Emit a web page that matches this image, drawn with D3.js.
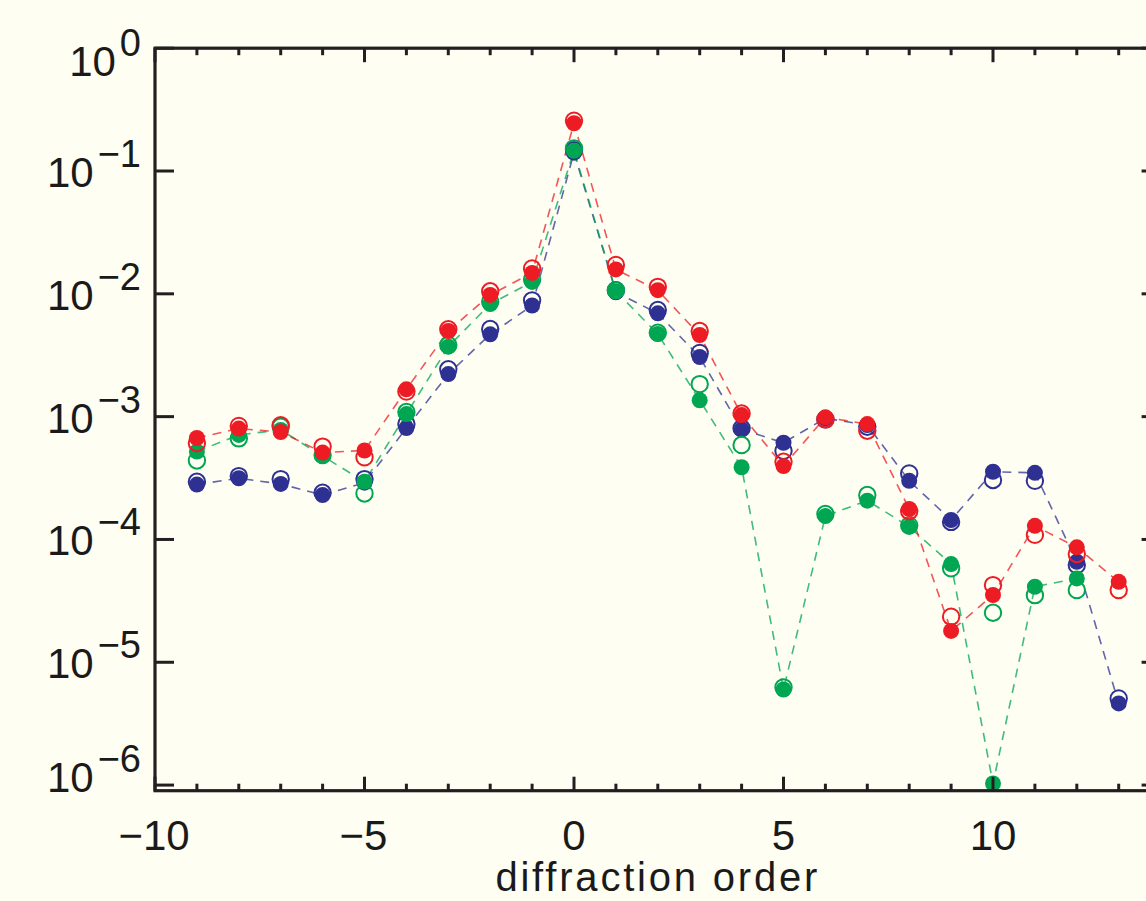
<!DOCTYPE html>
<html>
<head>
<meta charset="utf-8">
<script src="https://cdn.jsdelivr.net/npm/d3@7/dist/d3.min.js"></script>
<style>
  html, body { margin: 0; padding: 0; background: #fefef3; }
  svg { display: block; }
</style>
</head>
<body>
<svg id="chart" width="1146" height="901"></svg>
<script>
// Diffraction orders shown on the x axis
const orders = [-9,-8,-7,-6,-5,-4,-3,-2,-1,0,1,2,3,4,5,6,7,8,9,10,11,12,13];

// Relative intensity per order: filled markers (measured) and open markers (model)
const redFilled   = [6.7e-4,8.0e-4,7.5e-4,5.1e-4,5.3e-4,1.67e-3,4.98e-3,9.8e-3,1.48e-2,0.245,1.58e-2,1.07e-2,4.62e-3,1.03e-3,3.96e-4,9.87e-4,8.7e-4,1.77e-4,1.8e-5,3.53e-5,1.29e-4,8.63e-5,4.52e-5];
const redOpen     = [6.1e-4,8.4e-4,8.5e-4,5.7e-4,4.66e-4,1.6e-3,5.14e-3,1.05e-2,1.61e-2,0.257,1.72e-2,1.14e-2,4.98e-3,1.06e-3,4.29e-4,9.5e-4,7.68e-4,1.7e-4,2.35e-5,4.25e-5,1.09e-4,7.61e-5,3.87e-5];
const greenFilled = [5.2e-4,7.1e-4,7.8e-4,4.78e-4,2.95e-4,1.05e-3,3.71e-3,8.26e-3,1.25e-2,0.146,1.05e-2,4.71e-3,1.36e-3,3.87e-4,6.0e-6,1.55e-4,2.07e-4,1.27e-4,6.3e-5,1.03e-6,4.12e-5,4.82e-5,null];
const greenOpen   = [4.4e-4,6.65e-4,8.3e-4,4.87e-4,2.37e-4,1.09e-3,3.83e-3,8.63e-3,1.31e-2,0.153,1.07e-2,4.82e-3,1.84e-3,5.87e-4,6.25e-6,1.61e-4,2.3e-4,1.3e-4,5.82e-5,2.53e-5,3.52e-5,3.87e-5,null];
const blueFilled  = [2.8e-4,3.15e-4,2.83e-4,2.3e-4,2.9e-4,8.07e-4,2.22e-3,4.68e-3,8.03e-3,0.141,1.03e-2,6.94e-3,3.06e-3,7.88e-4,6.13e-4,9.7e-4,8.54e-4,3.0e-4,1.44e-4,3.56e-4,3.49e-4,6.58e-5,4.62e-6];
const blueOpen    = [2.95e-4,3.28e-4,3.1e-4,2.4e-4,3.1e-4,8.7e-4,2.43e-3,5.17e-3,8.85e-3,0.148,1.07e-2,7.38e-3,3.3e-3,8.03e-4,5.27e-4,9.5e-4,8.28e-4,3.45e-4,1.39e-4,3.05e-4,3.0e-4,6.19e-5,5.08e-6];

// Axis ticks
const yTickExps = [0,-1,-2,-3,-4,-5,-6];
const xMajorTicks = [-10,-5,0,5,10];
const xLabel = "diffraction order";

const series = [
  { color: "#2e3192", filled: blueFilled,  open: blueOpen },
  { color: "#00a651", filled: greenFilled, open: greenOpen },
  { color: "#ed1c24", filled: redFilled,   open: redOpen }
];

const svg = d3.select("#chart");
const W = 1146, H = 901;
const plotLeft = 155, plotTop = 48.2, plotRight = 1160.6, plotBottom = 790.7;
const ink = "#231f20";

svg.append("rect").attr("width", W).attr("height", H).attr("fill", "#fefef3");

const x = d3.scaleLinear().domain([-10, 14]).range([plotLeft, plotRight]);
const y = d3.scaleLog().domain([9e-7, 1]).range([plotBottom, plotTop]);

// Dashed connecting lines through the filled markers
const line = d3.line()
  .defined(d => d.v != null)
  .x(d => x(d.o))
  .y(d => y(d.v));

series.forEach(s => {
  const pts = orders.map((o, i) => ({ o, v: s.filled[i] }));
  svg.append("path")
    .attr("d", line(pts))
    .attr("fill", "none")
    .attr("stroke", s.color)
    .attr("stroke-opacity", 0.75)
    .attr("stroke-width", 1.6)
    .attr("stroke-dasharray", "9,7");
});

// Markers: open rings first, filled dots above them
series.forEach(s => {
  const g = svg.append("g");
  g.selectAll("circle.open")
    .data(orders.map((o, i) => ({ o, v: s.open[i] })).filter(d => d.v != null))
    .join("circle")
    .attr("class", "open")
    .attr("cx", d => x(d.o))
    .attr("cy", d => y(d.v))
    .attr("r", 8.2)
    .attr("fill", "none")
    .attr("stroke", s.color)
    .attr("stroke-width", 2);
  g.selectAll("circle.filled")
    .data(orders.map((o, i) => ({ o, v: s.filled[i] })).filter(d => d.v != null))
    .join("circle")
    .attr("class", "filled")
    .attr("cx", d => x(d.o))
    .attr("cy", d => y(d.v))
    .attr("r", 8)
    .attr("fill", s.color);
});

// Frame
const axisG = svg.append("g").attr("stroke", ink);
axisG.append("rect")
  .attr("x", plotLeft).attr("y", plotTop)
  .attr("width", plotRight - plotLeft).attr("height", plotBottom - plotTop)
  .attr("fill", "none").attr("stroke-width", 3.2);

// X ticks (bottom and top, pointing inward)
const xTicks = d3.range(-10, 15);
xTicks.forEach(t => {
  const len = xMajorTicks.includes(t) ? 14 : 7;
  axisG.append("line").attr("x1", x(t)).attr("x2", x(t))
    .attr("y1", plotBottom).attr("y2", plotBottom - len).attr("stroke-width", 3);
  axisG.append("line").attr("x1", x(t)).attr("x2", x(t))
    .attr("y1", plotTop).attr("y2", plotTop + len).attr("stroke-width", 3);
});

// Y ticks (left and right, decades only)
yTickExps.forEach(e => {
  const yy = y(Math.pow(10, e));
  axisG.append("line").attr("x1", plotLeft).attr("x2", plotLeft + 19)
    .attr("y1", yy).attr("y2", yy).attr("stroke-width", 3);
  axisG.append("line").attr("x1", plotRight).attr("x2", plotRight - 19)
    .attr("y1", yy).attr("y2", yy).attr("stroke-width", 3);
});

const font = "'Liberation Sans', Arial, Helvetica, sans-serif";
const minus = "\u2212";

// X tick labels
xMajorTicks.forEach(t => {
  svg.append("text")
    .attr("x", x(t) - (t < 0 ? 1 : 0))
    .attr("y", plotBottom + 59)
    .attr("text-anchor", "middle")
    .attr("font-family", font)
    .attr("font-size", 42)
    .attr("fill", "#1a1a1a")
    .text((t < 0 ? minus : "") + Math.abs(t));
});

// Y tick labels as powers of ten
yTickExps.forEach(e => {
  const yy = y(Math.pow(10, e));
  const shift = e === 0 ? 28 : (e === -6 ? 7 : 16);
  const t = svg.append("text")
    .attr("x", 141)
    .attr("y", yy + shift)
    .attr("text-anchor", "end")
    .attr("font-family", font)
    .attr("font-size", 42)
    .attr("fill", "#1a1a1a");
  t.append("tspan").text("10");
  t.append("tspan")
    .attr("dx", 4)
    .attr("dy", -20)
    .attr("font-size", 38)
    .text(e === 0 ? "0" : minus + Math.abs(e));
});

// X axis title
svg.append("text")
  .attr("x", (plotLeft + plotRight) / 2)
  .attr("y", 891)
  .attr("text-anchor", "middle")
  .attr("font-family", font)
  .attr("font-size", 40)
  .attr("letter-spacing", 2.8)
  .attr("fill", "#1a1a1a")
  .text(xLabel);
</script>
</body>
</html>
